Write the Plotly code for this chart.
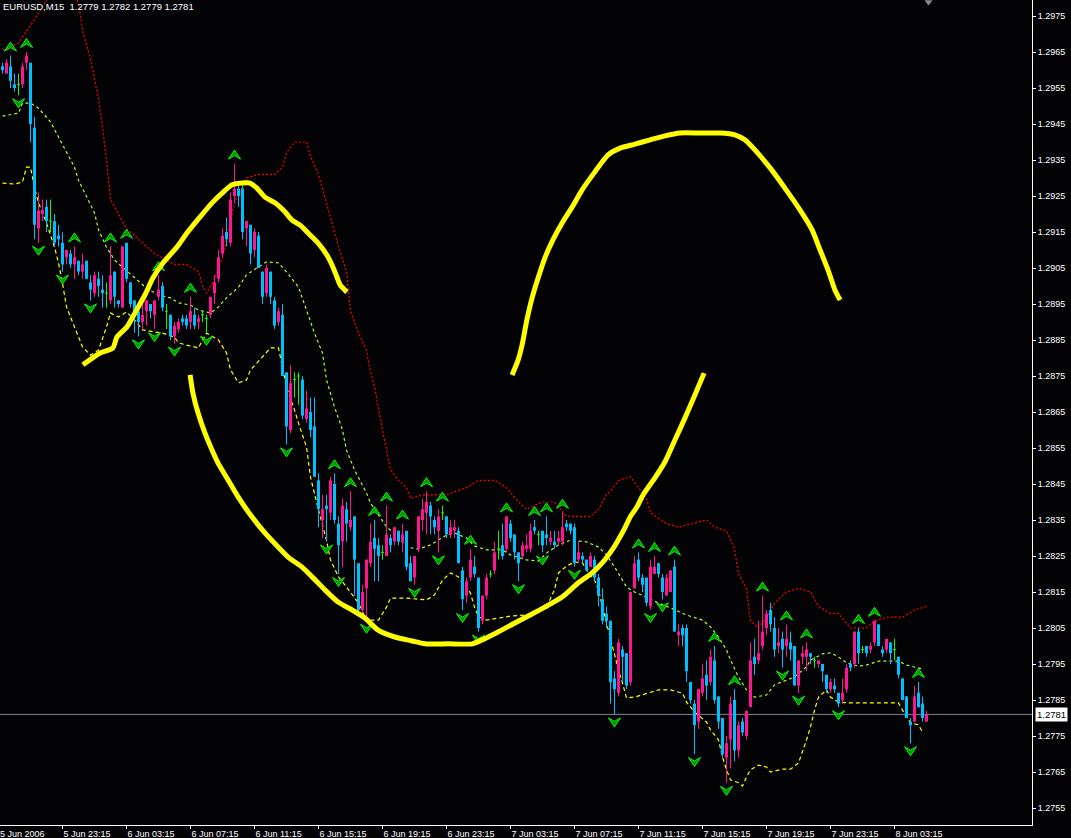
import plotly.graph_objects as go

# ---------------- data (prices in pips, 1 pip = 0.0001) ----------------
OPEN_PIPS = [
12961,12959,12961,12956,12956,12956,12962,12962,12944,12916,
12920,12922,12918,12918,12914,12912,12908,12909,12906,12907,
12904,12907,12901,12898,12902,12899,12898,12896,12904,12896,
12894,12912,12901,12896,12893,12890,12893,12895,12892,12897,
12900,12893,12892,12886,12888,12891,12891,12890,12892,12890,
12892,12891,12892,12898,12902,12909,12915,12912,12925,12927,
12927,12916,12917,12910,12914,12904,12898,12904,12896,12890,
12892,12876,12860,12874,12875,12874,12863,12865,12861,12846,
12835,12839,12837,12845,12834,12829,12838,12833,12836,12823,
12810,12816,12823,12830,12828,12826,12825,12830,12829,12832,
12829,12832,12823,12819,12827,12835,12837,12839,12835,12832,
12837,12836,12831,12832,12832,12821,12814,12819,12822,12819,
12807,12814,12820,12821,12827,12828,12827,12834,12831,12826,
12825,12827,12827,12833,12831,12832,12831,12829,12829,12829,
12829,12834,12834,12833,12824,12825,12824,12822,12824,12819,
12813,12809,12807,12791,12787,12799,12798,12790,12816,12824,
12819,12819,12811,12820,12823,12819,12814,12815,12822,12803,
12805,12805,12790,12784,12779,12787,12792,12790,12796,12786,
12780,12769,12774,12785,12771,12779,12775,12783,12797,12796,
12800,12805,12810,12805,12800,12802,12800,12801,12800,12789,
12797,12797,12798,12796,12795,12795,12792,12788,12789,12787,
12785,12788,12795,12795,12804,12799,12800,12799,12801,12806,
12799,12799,12801,12799,12797,12791,12786,12779,12779,12787,
12784,12779]
HIGH_PIPS = [
12962,12963,12964,12959,12959,12962,12965,12962,12947,12926,
12924,12924,12924,12920,12917,12915,12910,12910,12911,12907,
12909,12907,12903,12904,12904,12903,12901,12911,12904,12896,
12911,12912,12901,12896,12894,12895,12896,12895,12896,12903,
12901,12895,12892,12890,12891,12892,12892,12897,12894,12892,
12893,12892,12897,12903,12910,12916,12919,12926,12934,12928,
12928,12918,12917,12916,12915,12904,12906,12904,12897,12894,
12895,12876,12878,12876,12876,12875,12871,12869,12869,12848,
12842,12842,12847,12848,12836,12841,12840,12843,12836,12823,
12817,12824,12834,12835,12830,12828,12839,12831,12833,12832,
12834,12832,12825,12825,12836,12841,12843,12840,12836,12838,
12839,12836,12835,12835,12833,12822,12819,12827,12825,12819,
12814,12820,12821,12829,12832,12834,12836,12835,12831,12826,
12829,12831,12834,12835,12832,12832,12836,12832,12832,12832,
12837,12835,12834,12834,12829,12826,12824,12826,12825,12820,
12816,12811,12807,12793,12802,12800,12798,12815,12825,12826,
12820,12819,12824,12825,12823,12820,12820,12821,12824,12806,
12806,12806,12790,12785,12788,12795,12796,12799,12800,12786,
12780,12775,12786,12788,12779,12780,12782,12801,12802,12807,
12814,12810,12812,12808,12805,12804,12806,12804,12800,12796,
12800,12801,12798,12797,12796,12795,12792,12791,12791,12787,
12791,12795,12796,12804,12805,12800,12800,12801,12807,12806,
12800,12802,12801,12802,12797,12791,12786,12780,12789,12790,
12786,12782]
LOW_PIPS = [
12959,12959,12955,12954,12953,12955,12960,12940,12913,12912,
12918,12915,12915,12911,12911,12904,12906,12905,12902,12903,
12902,12902,12896,12897,12897,12894,12894,12895,12894,12894,
12894,12901,12894,12887,12886,12888,12889,12891,12888,12896,
12893,12888,12885,12884,12887,12889,12888,12888,12888,12888,
12890,12887,12891,12895,12901,12908,12911,12911,12923,12922,
12913,12911,12906,12908,12905,12895,12897,12895,12888,12889,
12875,12856,12859,12869,12867,12863,12862,12858,12847,12833,
12830,12829,12835,12834,12820,12822,12829,12832,12814,12809,
12809,12807,12822,12818,12818,12824,12825,12826,12828,12828,
12826,12821,12818,12817,12826,12832,12831,12831,12831,12826,
12835,12830,12830,12830,12823,12810,12812,12818,12819,12804,
12806,12813,12819,12820,12824,12824,12826,12829,12824,12818,
12824,12826,12826,12831,12828,12826,12828,12828,12827,12828,
12828,12832,12831,12822,12823,12823,12821,12822,12818,12811,
12806,12805,12784,12781,12786,12790,12788,12789,12816,12818,
12815,12811,12810,12820,12819,12813,12814,12815,12804,12800,
12800,12790,12784,12770,12777,12786,12785,12789,12784,12777,
12769,12762,12766,12768,12769,12775,12774,12783,12792,12795,
12799,12803,12804,12797,12798,12794,12797,12796,12789,12787,
12795,12793,12795,12794,12794,12790,12787,12787,12787,12783,
12784,12787,12793,12794,12795,12798,12797,12798,12800,12800,
12797,12798,12795,12796,12791,12785,12780,12773,12779,12783,
12779,12779]
CLOSE_PIPS = [
12960,12962,12957,12955,12956,12961,12964,12945,12917,12921,
12921,12918,12918,12912,12913,12906,12910,12906,12908,12904,
12906,12902,12899,12903,12900,12898,12898,12903,12897,12895,
12911,12902,12895,12892,12890,12892,12896,12893,12896,12899,
12894,12893,12886,12889,12890,12890,12889,12893,12889,12891,
12892,12891,12897,12901,12908,12914,12913,12924,12927,12925,
12915,12918,12909,12915,12905,12897,12905,12897,12889,12893,
12875,12861,12873,12874,12875,12864,12866,12860,12847,12838,
12838,12838,12846,12835,12828,12839,12834,12835,12824,12810,
12815,12824,12829,12827,12825,12826,12831,12828,12833,12829,
12831,12822,12818,12825,12836,12838,12840,12836,12833,12836,
12837,12831,12833,12833,12823,12813,12818,12824,12820,12805,
12814,12819,12820,12826,12827,12825,12836,12830,12826,12823,
12828,12828,12832,12832,12831,12828,12830,12830,12828,12830,
12833,12833,12832,12823,12826,12824,12821,12825,12819,12814,
12807,12807,12790,12788,12801,12797,12789,12815,12823,12819,
12817,12812,12822,12822,12820,12815,12819,12821,12804,12804,
12803,12793,12785,12778,12788,12791,12789,12797,12785,12779,
12770,12773,12784,12771,12778,12776,12782,12796,12795,12798,
12804,12809,12806,12799,12801,12799,12802,12799,12789,12796,
12798,12799,12797,12796,12796,12793,12788,12790,12788,12784,
12787,12794,12794,12804,12798,12799,12798,12800,12807,12800,
12798,12802,12798,12799,12792,12785,12780,12778,12786,12783,
12780,12781]

# fractal bars (Bill Williams fractals shown as arrows)
FRACTAL_UP = [2, 6, 18, 27, 31, 39, 47, 58, 83, 87, 93, 96, 100, 106, 110, 117, 126,
              133, 136, 140, 159, 163, 168, 178, 183, 190, 196, 201, 214, 218, 229]
FRACTAL_DOWN = [4, 9, 15, 22, 34, 38, 43, 51, 71, 81, 84, 91, 103, 109, 115, 119, 129,
                135, 143, 153, 162, 165, 173, 181, 195, 199, 209, 227]

# channel indicator lines (bar index, pips)
RED_I = [0,4,8,11,14,17,19,20,22,24,25,26,27,29,31,34,38,43,46,49,50,51,53,55,58,61,64,68,70,71,
         73,76,77,79,81,84,86,87,89,91,92,93,95,97,99,101,102,105,108,111,116,119,123,126,129,131,
         135,138,141,144,147,149,151,152,154,157,161,162,166,169,172,176,178,181,183,184,186,187,
         189,191,193,196,199,202,204,207,209,212,216,218,221,225,228,231]
RED_V = [12965.6,12967.5,12974,12979.4,12984,12983,12978.6,12971,12963,12952,12944,12935,12924,
         12920,12916,12913,12909,12906,12906,12904,12900,12898,12902,12908,12923,12930,12931,12931,
         12933,12937,12940,12940,12936,12931,12923,12911,12904,12893,12887,12882,12876,12872,12860,
         12849,12846,12844,12841,12842,12842,12842,12844,12846,12846,12844,12840,12838,12840,12840,
         12836,12836,12836,12838,12842,12843,12846,12847,12841,12837,12834,12833,12834,12835,12833,
         12832,12827,12820,12816,12807,12805,12808,12812,12815,12816,12815,12811,12809,12809,12805,
         12805,12807,12808,12808,12810,12811]
MID_I = [0,4,5,7,9,12,14,16,18,19,21,23,24,26,28,30,33,36,39,42,44,47,49,52,54,56,59,61,64,66,
         69,71,74,76,78,80,81,83,85,86,88,91,92,96,99,101,104,107,111,113,116,118,121,125,127,131,
         134,136,139,142,146,149,151,153,156,158,161,164,167,171,175,177,179,181,182,184,186,188,
         191,193,196,198,201,202,205,207,209,211,214,216,219,221,224,226,228,230]
MID_V = [12947.2,12948,12950.8,12950.8,12949.4,12945.6,12941.4,12937,12933,12929.4,12924.7,12920.3,
         12915.6,12910.8,12907.2,12905.3,12902.2,12899.4,12897.5,12896.7,12895.3,12894.7,12893.3,
         12892.5,12894.2,12896.7,12899.7,12903.1,12905.3,12906.7,12906.4,12903.9,12899.7,12893.3,
         12886.9,12881.4,12873.9,12866.4,12860,12854.4,12848.9,12842.5,12839.7,12833.1,12830.3,
         12827.5,12826.9,12828.1,12830.8,12831.4,12830,12827.8,12826.7,12826.7,12825.3,12823.9,
         12823.6,12825.8,12828.1,12829.4,12828.9,12827.5,12825.3,12822,12816.4,12815,12813.6,
         12811.9,12810.6,12808.6,12807.2,12805.3,12802.5,12798.9,12796.1,12791.4,12787.8,12785.8,
         12786.4,12789.2,12790.6,12791.4,12794.2,12796.1,12797.8,12798.1,12797,12795.3,12794.4,
         12794.7,12795.8,12795.8,12795.8,12794.7,12794.2,12793.6]
LOW_I = [0,3,5,6,7,8,9,11,13,14,15,16,18,20,22,24,26,27,28,29,31,33,35,38,40,43,44,46,49,50,
         51,54,56,57,59,61,62,65,67,69,70,71,73,74,76,77,79,81,82,84,86,89,91,94,96,97,101,106,
         108,110,112,114,116,117,118,119,121,125,127,131,133,136,138,139,141,143,145,146,148,149,
         150,151,152,153,154,155,156,158,161,164,167,170,171,173,176,177,179,180,181,182,184,185,
         186,187,189,191,192,195,197,199,201,202,203,204,206,207,209,212,219,224,225,226,227,229,230]
LOW_V = [12928.6,12928.3,12928.9,12933,12933,12927.5,12923.1,12917.5,12910.8,12906.4,12900.8,
         12894.2,12888.6,12883.1,12880.8,12882.2,12888.6,12892.5,12891.9,12891.4,12892.8,12890.6,
         12887.8,12887.2,12886.9,12885.8,12884.2,12883.6,12882.8,12885,12886.9,12885,12881.4,
         12876.7,12873.1,12873.9,12876.7,12880.3,12882.8,12882.8,12877.5,12871.9,12865.6,12861.9,
         12855.3,12846.9,12837.8,12829.4,12823.9,12819.2,12816.4,12811.9,12807.2,12807.2,12810.8,
         12813.3,12813.3,12812.8,12814.2,12818.3,12820.3,12819.2,12816.4,12814.7,12810.8,12808.1,
         12807.2,12807.8,12808.3,12808.6,12809.4,12810.8,12815.6,12820.3,12822.2,12823.3,12823.1,
         12821.1,12818.3,12815.6,12810.8,12806.4,12801.7,12797,12793.3,12789.7,12785.6,12785.8,
         12786.9,12787.8,12787.8,12786.9,12784.4,12781.7,12778.9,12776.7,12773.9,12769.2,12765.6,
         12762.8,12762,12761.1,12763.6,12765.6,12766.9,12766.4,12765,12765.8,12765.8,12767.5,
         12773.9,12777.5,12782.2,12785.8,12787.8,12785.8,12784.4,12784.2,12784.2,12784.2,12782.2,
         12780.3,12778.6,12778.1,12776.1]

# hand-drawn yellow strokes (bar position, pips)
S1_I = [20.1,24.4,27.6,28.6,31.1,33.1,35.6,37.6,40.1,43.6,46.1,49.4,52.4,54.9,57.4,59.9,61.9,63.6,
        65.6,68.1,70.6,72.4,74.4,76.4,78.9,81.1,82.6,83.6,84.4,86.1]
S1_V = [12878.1,12881.4,12882.8,12885.8,12888.6,12892.5,12897.5,12902.2,12906.4,12910.8,12914.7,
        12919.2,12923.1,12925.8,12928.1,12928.6,12928.6,12927.2,12924.7,12923.1,12920.6,12918.3,
        12916.9,12914.7,12911.9,12908.6,12905.3,12902.5,12900.3,12898.3]
S2_I = [46.9,47.6,48.9,50.6,52.4,53.9,56.4,58.9,62.4,65.6,68.9,71.4,74.9,77.4,80.6,83.9,87.4,90.6,
        93.9,98.1,102.4,105.6,111.4,117.4,119.9,123.9,128.1,132.4,135.6,139.9,143.9,147.4,150.1,
        152.4,153.9,155.6,156.9,158.6,160.1,163.1,165.6,168.1,170.6,173.1,175.4]
S2_V = [12875.3,12870.3,12864.7,12859.2,12854.4,12850.8,12846.1,12841.4,12835.8,12831.4,12827.5,
        12824.7,12821.9,12819.2,12815.6,12812.2,12810,12807.8,12804.4,12802.5,12801.4,12800.6,
        12800.6,12800.6,12801.7,12803.9,12806.4,12808.9,12810.8,12813.6,12817.5,12820.3,12823.3,
        12826.7,12829.4,12832.8,12835.8,12838.6,12841.9,12846.7,12851.1,12857.2,12863.3,12869.7,
        12875.8]
S3_I = [127.4,128.9,129.9,131.1,132.4,133.9,135.6,137.6,139.9,142.4,144.9,148.1,151.4,154.4,158.1,
        161.9,165.6,169.4,174.4,179.4,183.1,185.6,188.1,191.9,195.6,199.4,202.4,204.4,206.4,208.1,
        209.4]
S3_V = [12875.3,12879.4,12883.6,12890.6,12896.7,12902.2,12907.8,12912.8,12917.5,12921.9,12926.7,
        12931.7,12936.4,12938.3,12939.4,12940.6,12941.7,12942.5,12942.5,12942.5,12942,12940.6,
        12937.8,12932.8,12927.2,12921.1,12915.6,12910,12904.4,12898.9,12896.1]

X_TICK_BARS = [15, 31, 47, 63, 79, 95, 111, 127, 143, 159, 175, 191, 207, 223]
X_TICK_TEXT = ["5 Jun 23:15", "6 Jun 03:15", "6 Jun 07:15", "6 Jun 11:15", "6 Jun 15:15",
               "6 Jun 19:15", "6 Jun 23:15", "7 Jun 03:15", "7 Jun 07:15", "7 Jun 11:15",
               "7 Jun 15:15", "7 Jun 19:15", "7 Jun 23:15", "8 Jun 03:15"]
FIRST_DATE = "5 Jun 2006"
Y_TICKS = ["1.2755", "1.2765", "1.2775", "1.2785", "1.2795", "1.2805", "1.2815", "1.2825",
           "1.2835", "1.2845", "1.2855", "1.2865", "1.2875", "1.2885", "1.2895", "1.2905",
           "1.2915", "1.2925", "1.2935", "1.2945", "1.2955", "1.2965", "1.2975"]
SYMBOL = "EURUSD,M15"

# ---------------- styling ----------------
PIP = 1e-4
BG = "#030306"
BULL = "#FF1493"
BEAR = "#00BFFF"
DOJI = "#00FF00"
FONT = "Liberation Sans"
PX_X = 0.25            # bar units per pixel (4 px per bar)
PX_Y = PIP / 3.6       # price per pixel

def to_price(v):
    return [p * PIP for p in v]

O, H, L, C = map(to_price, (OPEN_PIPS, HIGH_PIPS, LOW_PIPS, CLOSE_PIPS))
N = len(C)

fig = go.Figure()

# indicator lines
for xi, yv, col, dash in [(RED_I, RED_V, "#FF0000", "2px,2px"),
                          (MID_I, MID_V, "#ADFF2F", "3px,3px"),
                          (LOW_I, LOW_V, "#FFFF00", "4px,3px")]:
    fig.add_trace(go.Scatter(x=xi, y=to_price(yv), mode="lines", hoverinfo="skip",
                             line=dict(color=col, width=1.2, dash=dash)))

# candles
groups = {BULL: ([], [], [], []), BEAR: ([], [], [], []), DOJI: ([], [], [], [])}
for i in range(N):
    col = BULL if C[i] > O[i] else (BEAR if C[i] < O[i] else DOJI)
    wx, wy, bx, by = groups[col]
    wx += [i, i, None]
    wy += [L[i], H[i], None]
    if col == DOJI:
        bx += [i - 0.375, i + 0.375, None]
        by += [O[i], O[i], None]
    else:
        bx += [i, i, None]
        by += [O[i], C[i], None]
for col, (wx, wy, bx, by) in groups.items():
    fig.add_trace(go.Scatter(x=wx, y=wy, mode="lines", hoverinfo="skip",
                             line=dict(color=col, width=1)))
    fig.add_trace(go.Scatter(x=bx, y=by, mode="lines", hoverinfo="skip",
                             line=dict(color=col, width=1 if col == DOJI else 3)))

# fractal arrows
UP_SHAPE = [(-6, -4.5), (0, 4.5), (6, -4.5), (0, -1), (-6, -4.5)]
ax, ay = [], []
for i in FRACTAL_UP:
    cy = H[i] + 9 * PX_Y
    for dx, dy in UP_SHAPE:
        ax.append(i + dx * PX_X)
        ay.append(cy + dy * PX_Y)
    ax.append(None); ay.append(None)
for i in FRACTAL_DOWN:
    cy = L[i] - 8 * PX_Y
    for dx, dy in UP_SHAPE:
        ax.append(i + dx * PX_X)
        ay.append(cy - dy * PX_Y)
    ax.append(None); ay.append(None)
fig.add_trace(go.Scatter(x=ax, y=ay, mode="lines", fill="toself", hoverinfo="skip",
                         fillcolor="rgba(0,170,0,0.85)", line=dict(color="#00FF00", width=1)))

# hand-drawn strokes
for sx, sy in [(S1_I, S1_V), (S2_I, S2_V), (S3_I, S3_V)]:
    fig.add_trace(go.Scatter(x=sx, y=to_price(sy), mode="lines", hoverinfo="skip",
                             line=dict(color="#FFFF00", width=5, shape="spline", smoothing=0.6)))

y_lo = (12975 - 809 / 3.6) * PIP
y_hi = (12975 + 16 / 3.6) * PIP

# chart-shift marker at top
fig.add_trace(go.Scatter(x=[N - 0.5], y=[y_hi - 2 * PX_Y], mode="markers", hoverinfo="skip",
                         cliponaxis=False,
                         marker=dict(symbol="triangle-down", size=7, color="#8C8C8C")))

fig.add_shape(type="line", xref="paper", x0=0, x1=1, yref="y", y0=C[-1], y1=C[-1],
              line=dict(color="#7E8594", width=1), layer="below")

fig.add_annotation(xref="paper", yref="y", x=1, y=C[-1], xanchor="left", yanchor="middle",
                   xshift=3, text=f"{C[-1]:.4f}", showarrow=False, bgcolor="#FFFFFF",
                   borderpad=1, font=dict(family=FONT, size=9.5, color="#000000"))
fig.add_annotation(xref="paper", yref="paper", x=0, y=1, xanchor="left", yanchor="top",
                   xshift=1, yshift=1,
                   text=f"{SYMBOL}\u00a0\u00a0{O[-1]:.4f} {H[-1]:.4f} {L[-1]:.4f} {C[-1]:.4f}",
                   showarrow=False, font=dict(family=FONT, size=9.5, color="#FFFFFF"))
fig.add_annotation(xref="paper", yref="paper", x=0, y=0, xanchor="left", yanchor="top",
                   xshift=-2, yshift=-2, text=FIRST_DATE, showarrow=False,
                   font=dict(family=FONT, size=9, color="#FFFFFF"))

fig.update_layout(
    width=1071, height=838,
    margin=dict(l=0, r=39, t=0, b=13),
    paper_bgcolor=BG, plot_bgcolor=BG,
    showlegend=False,
    xaxis=dict(range=[-0.625, 257.375], showgrid=False, zeroline=False, showline=True,
               linecolor="#FFFFFF", linewidth=1, ticks="outside", ticklen=3, tickcolor="#FFFFFF",
               tickvals=X_TICK_BARS, ticktext=X_TICK_TEXT, ticklabelposition="outside right",
               tickfont=dict(family=FONT, size=9, color="#FFFFFF"), fixedrange=True),
    yaxis=dict(side="right", range=[y_lo, y_hi], showgrid=False, zeroline=False, showline=True,
               linecolor="#FFFFFF", linewidth=1, ticks="outside", ticklen=3, tickcolor="#FFFFFF",
               tickvals=[float(t) for t in Y_TICKS], ticktext=Y_TICKS,
               tickfont=dict(family=FONT, size=9, color="#FFFFFF"), fixedrange=True),
)

fig.write_html("out.html", config={"displayModeBar": False},
               post_script="document.body.style.margin='0px';document.body.style.background='#030306';")
